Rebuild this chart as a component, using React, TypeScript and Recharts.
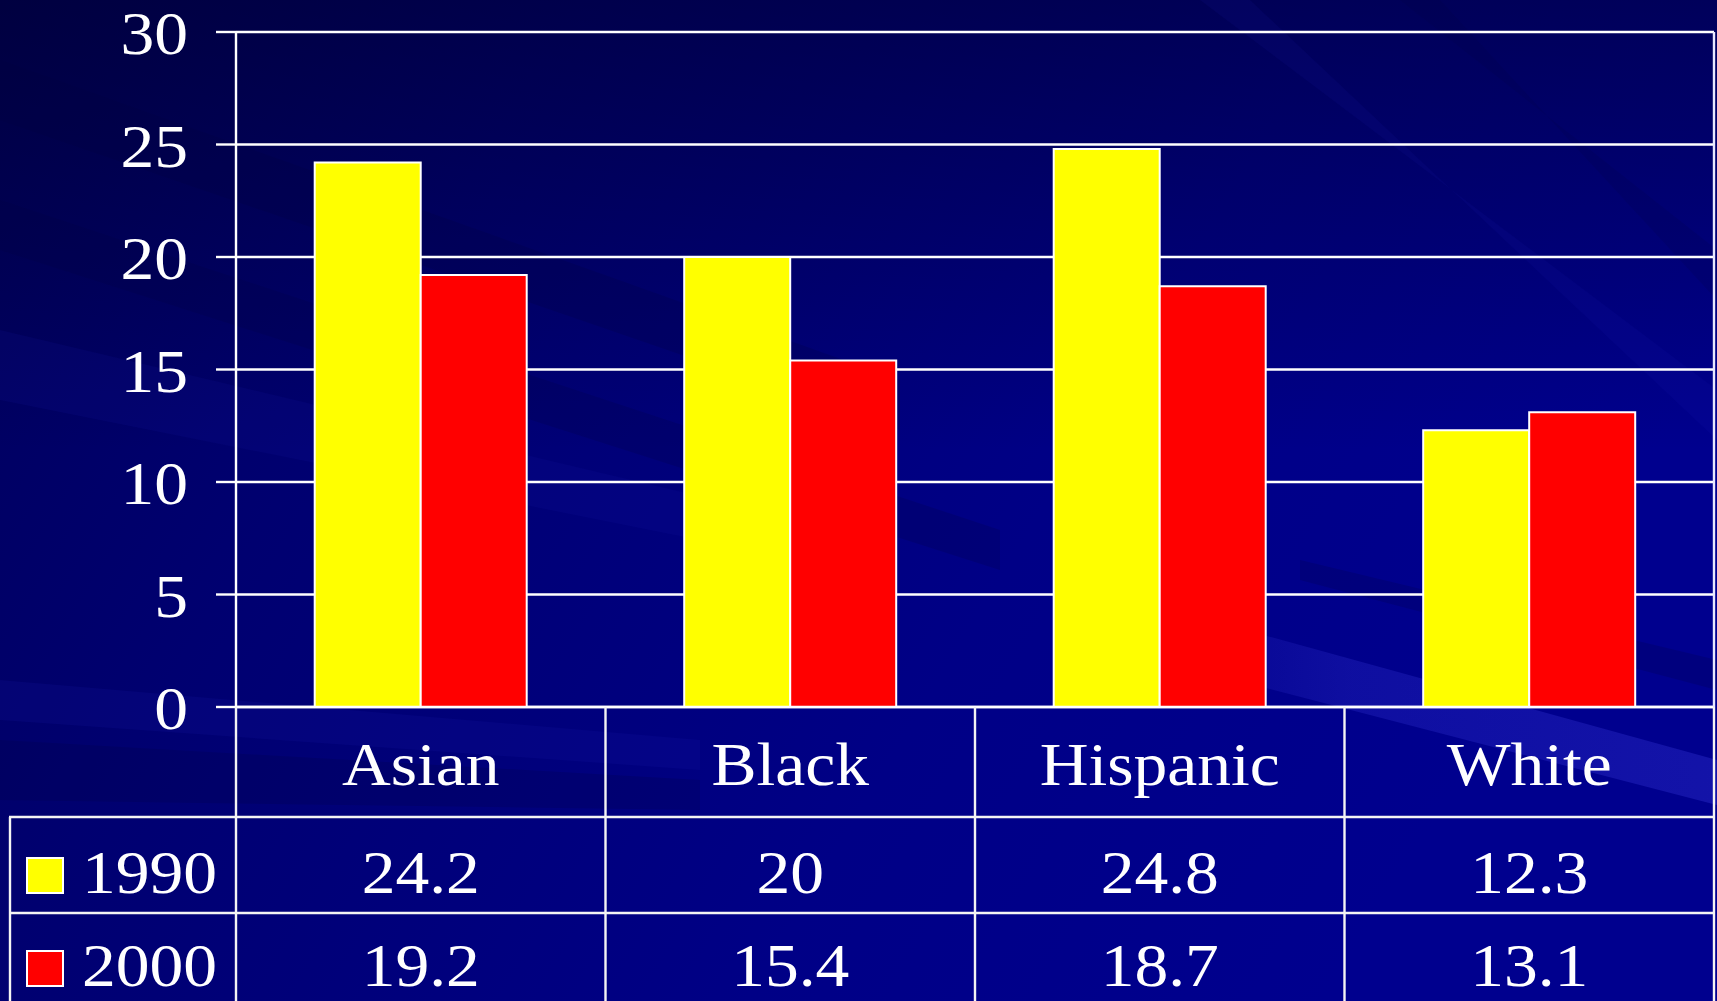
import React from 'react';
import { BarChart, Bar, XAxis, YAxis, CartesianGrid, Legend } from 'recharts';

const categories = ['Asian', 'Black', 'Hispanic', 'White'];
const values1990 = [24.2, 20, 24.8, 12.3];
const values2000 = [19.2, 15.4, 18.7, 13.1];
const seriesNames = ['1990', '2000'];
const seriesColors = ['#FFFF00', '#FF0000'];
const yTicks = [0, 5, 10, 15, 20, 25, 30];

const data = categories.map((c, i) => ({ category: c, v1990: values1990[i], v2000: values2000[i] }));
const tableRows = [values1990, values2000];

const FONT = '"Liberation Serif", "Times New Roman", serif';
const FS = 62;
const STRETCH = 1.09;
const LINE = '#f4f4f4';
const LW = 2.4;

// table layout, relative to the x axis line
const HEADER_BASE = 78;
const ROW_LINES = [110, 206];
const ROW_BASES = [186, 279];
const TABLE_BOTTOM = 300;

const SText = ({ x, y, anchor, children }: any) => (
  <text
    transform={`translate(${x} ${y}) scale(${STRETCH} 1)`}
    textAnchor={anchor}
    fill="#ffffff"
    fontSize={FS}
    fontFamily={FONT}
  >
    {children}
  </text>
);

const YTick = (props: any) => {
  const { x, y, payload } = props;
  return <SText x={x} y={y + 22} anchor="end">{payload.value}</SText>;
};

const TableTick = (props: any) => {
  const { x, y, payload, index, width } = props;
  const band = width / categories.length;
  const left = x - band / 2;
  const right = x + band / 2;
  return (
    <g>
      <line x1={left} y1={y} x2={left} y2={y + TABLE_BOTTOM} stroke={LINE} strokeWidth={LW} />
      {index === categories.length - 1 && (
        <line x1={right} y1={y} x2={right} y2={y + TABLE_BOTTOM} stroke={LINE} strokeWidth={LW} />
      )}
      {ROW_LINES.map((r) => (
        <line key={r} x1={left} y1={y + r} x2={right} y2={y + r} stroke={LINE} strokeWidth={LW} />
      ))}
      <SText x={x} y={y + HEADER_BASE} anchor="middle">{payload.value}</SText>
      {tableRows.map((row, ri) => (
        <SText key={ri} x={x} y={y + ROW_BASES[ri]} anchor="middle">{row[index]}</SText>
      ))}
    </g>
  );
};

const LegendTable = (props: any) => {
  const payload = props.payload || [];
  return (
    <svg width={236} height={294} style={{ display: 'block', overflow: 'visible' }}>
      <line x1={10} y1={ROW_LINES[0]} x2={10} y2={TABLE_BOTTOM} stroke={LINE} strokeWidth={LW} />
      {ROW_LINES.map((r) => (
        <line key={r} x1={9} y1={r} x2={236} y2={r} stroke={LINE} strokeWidth={LW} />
      ))}
      {payload.map((p: any, i: number) => (
        <g key={p.value}>
          <rect x={27} y={ROW_BASES[i] - 35} width={36} height={35} fill={p.color} stroke="#ffffff" strokeWidth={2} />
          <SText x={82} y={ROW_BASES[i]} anchor="start">{p.value}</SText>
        </g>
      ))}
    </svg>
  );
};

const Background = () => (
  <svg width={1717} height={1001} style={{ position: 'absolute', left: 0, top: 0 }}>
    <defs>
      <linearGradient id="bgGrad" x1="0" y1="0" x2="1" y2="0.35">
        <stop offset="0" stopColor="#00005a" />
        <stop offset="0.3" stopColor="#000070" />
        <stop offset="0.7" stopColor="#000086" />
        <stop offset="1" stopColor="#00008e" />
      </linearGradient>
      <linearGradient id="topShade" x1="0" y1="0" x2="0" y2="1">
        <stop offset="0" stopColor="#000020" stopOpacity="0.45" />
        <stop offset="0.45" stopColor="#000020" stopOpacity="0" />
      </linearGradient>
      <linearGradient id="lightBand" x1="0" y1="0" x2="1" y2="0">
        <stop offset="0" stopColor="#3030d0" stopOpacity="0" />
        <stop offset="0.4" stopColor="#3030d0" stopOpacity="0.3" />
        <stop offset="1" stopColor="#3030d0" stopOpacity="0.4" />
      </linearGradient>
    </defs>
    <rect x={0} y={0} width={1717} height={1001} fill="url(#bgGrad)" />
    <rect x={0} y={0} width={1717} height={1001} fill="url(#topShade)" />
    <polygon points="0,60 0,120 900,430 900,380" fill="#000040" opacity={0.22} />
    <polygon points="0,200 0,250 1000,570 1000,530" fill="#000040" opacity={0.2} />
    <polygon points="0,330 0,400 800,560 800,520" fill="#1a1ab0" opacity={0.12} />
    <polygon points="0,680 0,720 700,770 700,740" fill="#1a1ab0" opacity={0.15} />
    <polygon points="0,740 0,800 700,810 700,780" fill="#000040" opacity={0.2} />
    <polygon points="1200,0 1250,0 1717,440 1717,390" fill="#2a2ad0" opacity={0.08} />
    <polygon points="1400,0 1440,0 1717,300 1717,250" fill="#000040" opacity={0.15} />
    <polygon points="1100,590 1717,760 1717,805 1100,645" fill="url(#lightBand)" />
    <polygon points="1300,560 1717,660 1717,690 1300,580" fill="#000040" opacity={0.2} />
  </svg>
);

export default function App() {
  return (
    <div
      style={{
        position: 'absolute',
        left: 0,
        top: 0,
        width: 1717,
        height: 1001,
        overflow: 'hidden',
        background: '#000080',
      }}
    >
      <Background />
      <BarChart
        width={1717}
        height={1001}
        data={data}
        margin={{ top: 32, right: 0, bottom: 0, left: 0 }}
        barCategoryGap="21.3%"
        barGap={0}
      >
        <CartesianGrid vertical={false} stroke="#ffffff" strokeWidth={LW} />
        <XAxis
          dataKey="category"
          height={294}
          interval={0}
          tickSize={0}
          tickMargin={0}
          tickLine={false}
          axisLine={{ stroke: '#ffffff', strokeWidth: LW }}
          tick={<TableTick />}
        />
        <YAxis
          width={236}
          domain={[0, 30]}
          ticks={yTicks}
          interval={0}
          tickSize={20}
          tickMargin={28}
          tickLine={{ stroke: '#ffffff', strokeWidth: LW }}
          axisLine={{ stroke: '#ffffff', strokeWidth: LW }}
          tick={<YTick />}
        />
        <YAxis
          yAxisId="frame"
          orientation="right"
          width={3}
          domain={[0, 30]}
          tick={false}
          tickLine={false}
          axisLine={{ stroke: '#e8e8ff', strokeWidth: LW }}
        />
        <Legend
          layout="horizontal"
          verticalAlign="middle"
          align="center"
          wrapperStyle={{ left: 0, top: 707, width: 236, height: 294 }}
          content={<LegendTable />}
        />
        <Bar dataKey="v1990" name={seriesNames[0]} fill={seriesColors[0]} stroke="#ffffff" strokeWidth={2} isAnimationActive={false} />
        <Bar dataKey="v2000" name={seriesNames[1]} fill={seriesColors[1]} stroke="#ffffff" strokeWidth={2} isAnimationActive={false} />
      </BarChart>
    </div>
  );
}
